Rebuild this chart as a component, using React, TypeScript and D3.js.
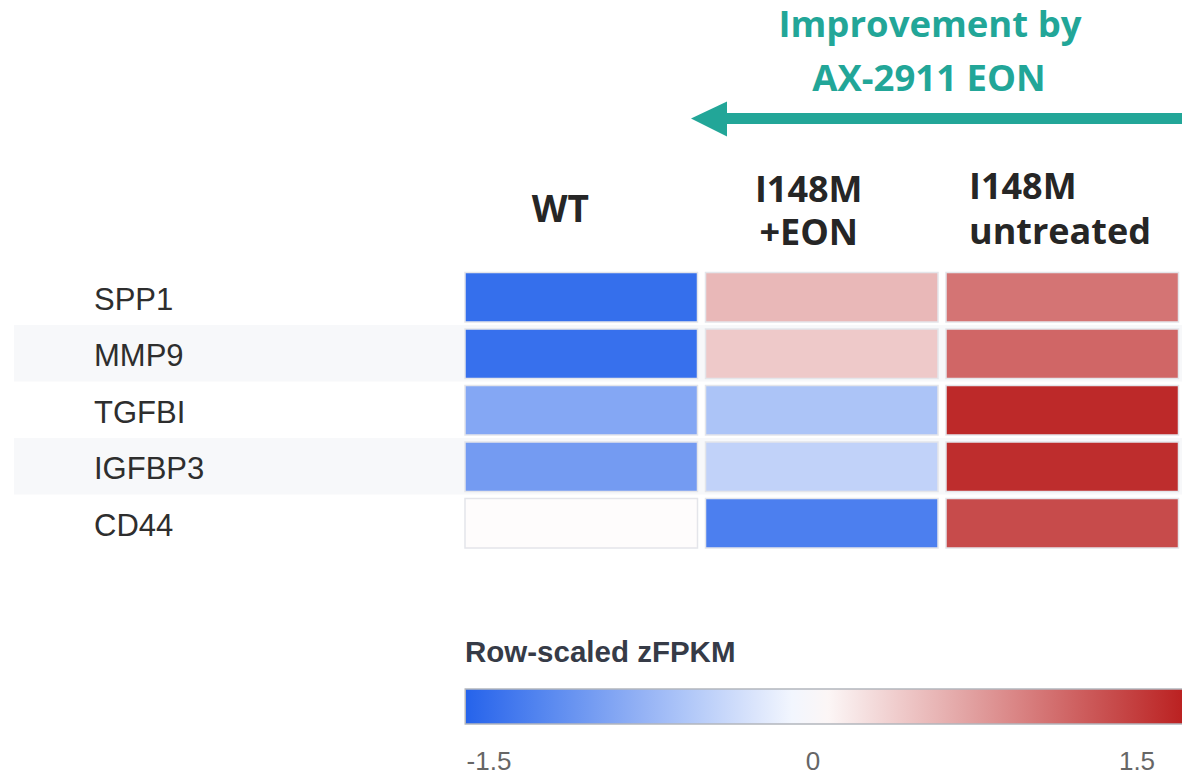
import React, { useEffect, useRef } from 'react';
import * as d3 from 'd3';

// genes (rows) and conditions (columns)
const genes = ['SPP1', 'MMP9', 'TGFBI', 'IGFBP3', 'CD44'];
const conditions = ['WT', 'I148M +EON', 'I148M untreated'];

// row-scaled zFPKM, one array per condition (same order as genes)
const wtValues = [-1.49, -1.48, -0.91, -1.03, 0.02];
const eonValues = [0.55, 0.42, -0.61, -0.46, -1.32];
const untreatedValues = [1.07, 1.18, 1.65, 1.62, 1.39];

const legendTicks = [-1.5, 0, 1.5];
const zMin = -1.61;
const zMax = 1.75;

const W = 1182;
const H = 774;

const App: React.FC = () => {
  const svgRef = useRef<SVGSVGElement>(null);

  useEffect(() => {
    if (!svgRef.current) return;
    const svg = d3.select(svgRef.current);
    svg.selectAll('*').remove();

    const values = [wtValues, eonValues, untreatedValues];
    const cells = genes.flatMap((g, ri) =>
      conditions.map((c, ci) => ({ gene: g, cond: c, v: values[ci][ri] }))
    );

    const color = d3.scaleLinear<string>()
      .domain([zMin, 0, zMax])
      .range(['#2563eb', '#ffffff', '#b91c1c'])
      .interpolate(d3.interpolateRgb);

    const colGap = 8;
    const x = d3.scaleBand()
      .domain(conditions)
      .range([465, 465 + 3 * 240.5 - colGap])
      .paddingInner(colGap / 240.5);

    const y = d3.scaleBand()
      .domain(genes)
      .range([268.5, 268.5 + 5 * 56.5]);

    // zebra stripes
    svg.append('g')
      .selectAll('rect')
      .data(genes.filter((_, i) => i % 2 === 1))
      .enter()
      .append('rect')
      .attr('x', 14)
      .attr('y', d => y(d) || 0)
      .attr('width', W - 14)
      .attr('height', y.bandwidth())
      .attr('fill', '#f7f8fa');

    // heatmap cells
    svg.append('g')
      .selectAll('rect')
      .data(cells)
      .enter()
      .append('rect')
      .attr('x', d => x(d.cond) || 0)
      .attr('y', d => (y(d.gene) || 0) + 4)
      .attr('width', x.bandwidth())
      .attr('height', y.bandwidth() - 7)
      .attr('fill', d => color(d.v))
      .attr('stroke', '#e4e5ea')
      .attr('stroke-width', 1.5);

    // gene labels
    svg.append('g')
      .selectAll('text')
      .data(genes)
      .enter()
      .append('text')
      .attr('x', 94)
      .attr('y', d => (y(d) || 0) + y.bandwidth() / 2 + 2)
      .attr('dy', '0.36em')
      .style('font-family', '"Liberation Sans", Arial, sans-serif')
      .style('font-size', '31px')
      .style('fill', '#2e2e2e')
      .text(d => d);

    // column headers
    const hdrFont = '"Open Sans", sans-serif';
    const header = svg.append('g')
      .style('font-family', hdrFont)
      .style('font-weight', 'bold')
      .style('font-size', '36px')
      .style('fill', '#262626');

    header.append('text')
      .attr('x', (x('WT') || 0) + x.bandwidth() / 2 - 21)
      .attr('y', 222)
      .attr('text-anchor', 'middle')
      .style('font-size', '37px')
      .text('WT');

    const eonX = (x('I148M +EON') || 0) + x.bandwidth() / 2 - 13;
    header.append('text').attr('x', eonX).attr('y', 202).attr('text-anchor', 'middle').text('I148M');
    header.append('text').attr('x', eonX).attr('y', 245).attr('text-anchor', 'middle').text('+EON');

    const untX = (x('I148M untreated') || 0) + 23;
    header.append('text').attr('x', untX).attr('y', 199).text('I148M');
    header.append('text').attr('x', untX).attr('y', 244).text('untreated');

    // title + arrow
    const teal = '#22a698';
    const title = svg.append('g')
      .style('font-family', hdrFont)
      .style('font-weight', 'bold')
      .style('font-size', '36.5px')
      .style('fill', teal)
      .attr('text-anchor', 'middle');
    title.append('text').attr('x', 930).attr('y', 37).text('Improvement by');
    title.append('text').attr('x', 929).attr('y', 91).text('AX-2911 EON');

    const arrowY = 118.5;
    svg.append('line')
      .attr('x1', W + 10)
      .attr('x2', 720)
      .attr('y1', arrowY)
      .attr('y2', arrowY)
      .attr('stroke', teal)
      .attr('stroke-width', 11);
    svg.append('path')
      .attr('d', d3.line()([[691, arrowY], [727, arrowY - 17], [727, arrowY + 18]]) + 'Z')
      .attr('fill', teal);

    // legend
    const lx = d3.scaleLinear().domain([-1.5, 1.5]).range([489, 1137]);

    svg.append('text')
      .attr('x', 465)
      .attr('y', 662)
      .style('font-family', '"Liberation Sans", Arial, sans-serif')
      .style('font-weight', 'bold')
      .style('font-size', '29.5px')
      .style('fill', '#363b47')
      .text('Row-scaled zFPKM');

    const defs = svg.append('defs');
    const grad = defs.append('linearGradient')
      .attr('id', 'zgrad')
      .attr('x1', '0%').attr('x2', '100%')
      .attr('y1', '0%').attr('y2', '0%');
    d3.range(0, 21).forEach(i => {
      const v = zMin + (zMax - zMin) * (i / 20);
      grad.append('stop')
        .attr('offset', `${(i / 20) * 100}%`)
        .attr('stop-color', color(v));
    });

    svg.append('rect')
      .attr('x', lx(zMin))
      .attr('y', 689)
      .attr('width', lx(zMax) - lx(zMin))
      .attr('height', 35)
      .attr('fill', 'url(#zgrad)')
      .attr('stroke', '#b3b6bd')
      .attr('stroke-width', 1.5);

    svg.append('g')
      .selectAll('text')
      .data(legendTicks)
      .enter()
      .append('text')
      .attr('x', d => lx(d))
      .attr('y', 770)
      .attr('text-anchor', 'middle')
      .style('font-family', '"Liberation Sans", Arial, sans-serif')
      .style('font-size', '26px')
      .style('fill', '#666')
      .text(d => (d === 0 ? '0' : d.toString()));
  }, []);

  return (
    <svg
      ref={svgRef}
      width={W}
      height={H}
      style={{ position: 'absolute', left: 0, top: 0, background: '#fff' }}
    />
  );
};

export default App;
